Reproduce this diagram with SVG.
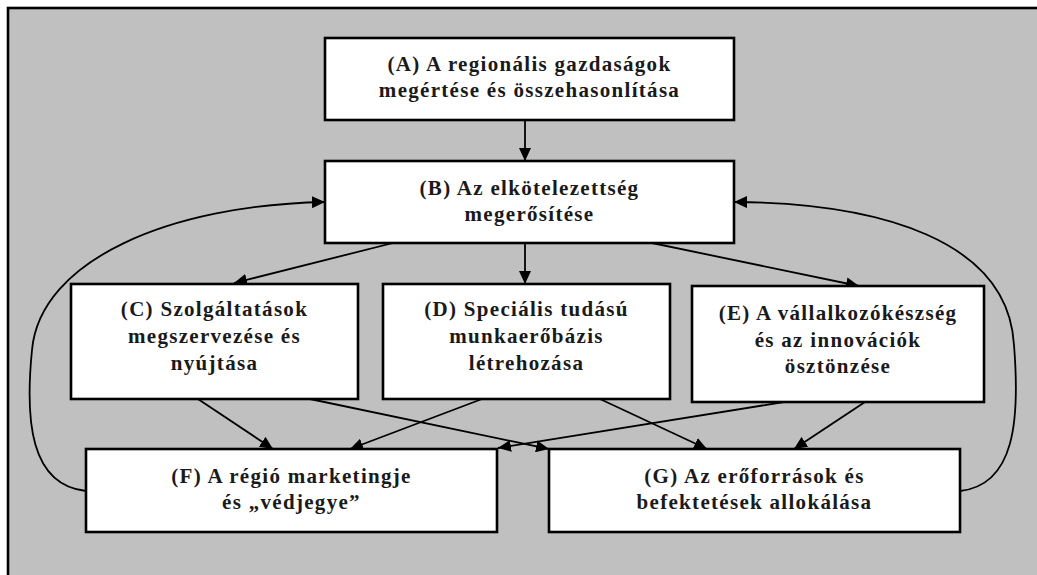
<svg xmlns="http://www.w3.org/2000/svg" width="1037" height="575" viewBox="0 0 1037 575">
<defs>
<marker id="ah" markerUnits="userSpaceOnUse" markerWidth="13" markerHeight="12" refX="13" refY="6" orient="auto">
<path d="M0,0 L13,6 L0,12 z" fill="#000"/>
</marker>
<style>
.box{fill:#fff;stroke:#000;stroke-width:2.6}
.t{font-family:"Liberation Serif","Times New Roman",serif;font-weight:bold;font-size:21px;letter-spacing:1.3px;fill:#1a1a1a;text-anchor:middle}
.c{fill:none;stroke:#000;stroke-width:1.8;marker-end:url(#ah)}
</style>
</defs>
<rect x="8" y="8" width="1100" height="620" fill="#c0c0c0" stroke="#000" stroke-width="2.6"/>
<g id="connectors">
<path class="c" d="M525,120 L525,161"/>
<path class="c" d="M393,243 L234,283"/>
<path class="c" d="M525,243 L525,284"/>
<path class="c" d="M652,243 L859,286"/>
<path class="c" d="M198,399 L273,449"/>
<path class="c" d="M310,399 L549,449"/>
<path class="c" d="M482,399 L350,449"/>
<path class="c" d="M600,399 L707,449"/>
<path class="c" d="M784,402 L498,448"/>
<path class="c" d="M865,402 L794,449"/>
<path class="c" d="M86,491 C30,485 25,420 32,350 C40,260 170,205 325,202"/>
<path class="c" d="M960,491 C1015,485 1020,420 1014,345 C1008,240 880,203 734,202"/>
</g>
<g id="A">
<rect class="box" x="325" y="38" width="409" height="82"/>
<text class="t" x="529.5" y="71">(A) A regionális gazdaságok</text>
<text class="t" x="529.5" y="97">megértése és összehasonlítása</text>
</g>
<g id="B">
<rect class="box" x="325" y="161" width="409" height="82"/>
<text class="t" x="529.5" y="195">(B) Az elkötelezettség</text>
<text class="t" x="529.5" y="221">megerősítése</text>
</g>
<g id="C">
<rect class="box" x="71" y="284" width="287" height="115"/>
<text class="t" x="214.5" y="316">(C) Szolgáltatások</text>
<text class="t" x="214.5" y="343">megszervezése és</text>
<text class="t" x="214.5" y="370">nyújtása</text>
</g>
<g id="D">
<rect class="box" x="383" y="284" width="287" height="115"/>
<text class="t" x="526.5" y="316">(D) Speciális tudású</text>
<text class="t" x="526.5" y="343">munkaerőbázis</text>
<text class="t" x="526.5" y="370">létrehozása</text>
</g>
<g id="E">
<rect class="box" x="692" y="286" width="292" height="116"/>
<text class="t" x="838" y="320">(E) A vállalkozókészség</text>
<text class="t" x="838" y="347">és az innovációk</text>
<text class="t" x="838" y="373">ösztönzése</text>
</g>
<g id="F">
<rect class="box" x="86" y="449" width="411" height="83"/>
<text class="t" x="291.5" y="483">(F) A régió marketingje</text>
<text class="t" x="291.5" y="509">és „védjegye”</text>
</g>
<g id="G">
<rect class="box" x="549" y="449" width="411" height="83"/>
<text class="t" x="754.5" y="483">(G) Az erőforrások és</text>
<text class="t" x="754.5" y="509">befektetések allokálása</text>
</g>
</svg>
